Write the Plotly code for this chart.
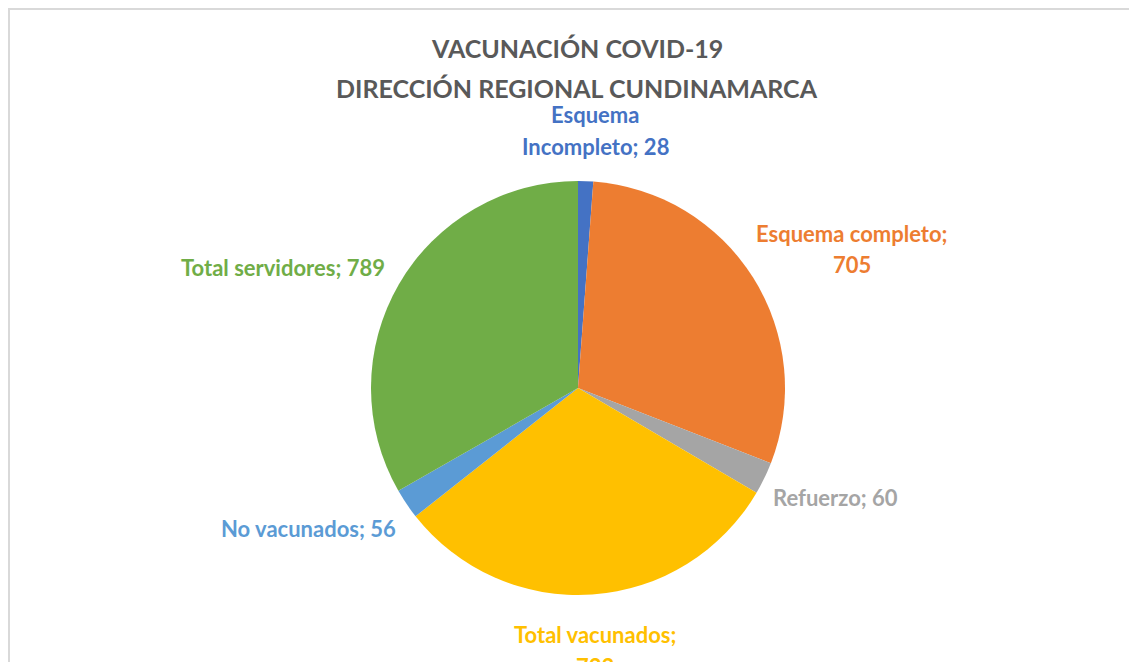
import plotly.graph_objects as go

# Datos del grafico
categorias = ["Esquema Incompleto", "Esquema completo", "Refuerzo",
              "Total vacunados", "No vacunados", "Total servidores"]
valores = [28, 705, 60, 733, 56, 789]
colores = ["#4472C4", "#ED7D31", "#A5A5A5", "#FFC000", "#5B9BD5", "#70AD47"]

# etiquetas tal como aparecen (cada linea por separado)
etiquetas = [["Esquema", "Incompleto; 28"], ["Esquema completo;", "705"], ["Refuerzo; 60"],
             ["Total vacunados;", "733"], ["No vacunados; 56"], ["Total servidores; 789"]]
# posicion de la primera linea de cada etiqueta en pixeles (x, y desde arriba)
pos_etiquetas = [(595, 115), (852, 233), (835, 497), (595, 634), (308, 528), (283, 267)]

W, H = 1137, 662
OFF = 8  # margen del body de la pagina


def px_x(x):
    return (x - OFF) / W


def px_y(y):
    return 1 - (y - OFF) / H


fig = go.Figure(go.Pie(labels=categorias,
                       values=valores,
                       marker=dict(colors=colores, line=dict(width=0)),
                       sort=False,
                       direction='clockwise',
                       rotation=0,
                       textinfo='none',
                       hoverinfo='label+value',
                       showlegend=False,
                       domain=dict(x=[px_x(578 - 207), px_x(578 + 207)],
                                   y=[px_y(388 + 207), px_y(388 - 207)])))

for lineas, (lx, ly), col in zip(etiquetas, pos_etiquetas, colores):
    for i, linea in enumerate(lineas):
        fig.add_annotation(x=px_x(lx), y=px_y(ly + i * 32), xref='paper', yref='paper',
                           text='<b>' + linea + '</b>', showarrow=False,
                           xanchor='center', yanchor='middle', align='center',
                           font=dict(family='Lato', size=22, color=col))

# titulo
titulo = ["VACUNACIÓN COVID-19", "DIRECCIÓN REGIONAL CUNDINAMARCA"]
for i, linea in enumerate(titulo):
    fig.add_annotation(x=px_x(577), y=px_y(48 + i * 40), xref='paper', yref='paper',
                       text='<b>' + linea + '</b>', showarrow=False,
                       xanchor='center', yanchor='middle',
                       font=dict(family='Lato', size=25, color='#595959'))

# marco del area del grafico
fig.add_shape(type='rect', xref='paper', yref='paper',
              x0=px_x(9), y0=-0.05, x1=1.05, y1=px_y(9),
              line=dict(color='#D9D9D9', width=2), fillcolor='rgba(0,0,0,0)')

fig.update_layout(width=W, height=H,
                  margin=dict(l=0, r=0, t=0, b=0),
                  paper_bgcolor='white', plot_bgcolor='white')

fig.write_html("out.html")
